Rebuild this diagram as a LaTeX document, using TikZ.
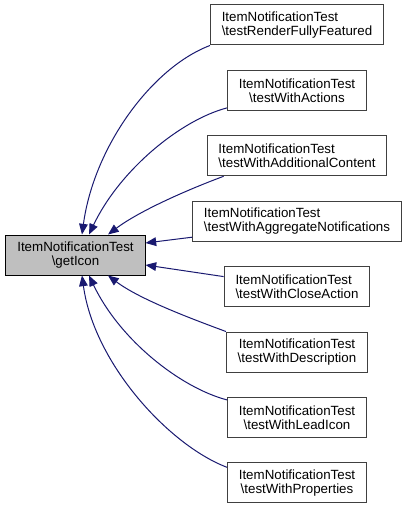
\documentclass[tikz,border=0pt]{standalone}
\usepackage{fontspec}
\setmainfont{Liberation Sans}
\usetikzlibrary{positioning, arrows.meta, calc}
\definecolor{callcolor}{RGB}{25, 25, 112}
\definecolor{focusfill}{RGB}{191, 191, 191}

\begin{document}
\begin{tikzpicture}[x=0.75pt, y=-0.75pt, node distance=18.3pt,
    caller/.style={draw=black!75, fill=white, line width=0.75pt,
              minimum height=30pt, inner xsep=8.5pt, inner ysep=2pt,
              font=\fontsize{10}{10.3}\selectfont, align=center},
    callline/.style={draw=callcolor, line width=0.75pt,
              -{Triangle[length=8pt, width=6.5pt]}}]
        \useasboundingbox (0,0) rectangle (405,509);
        % function whose callers are shown
        \node[caller, draw=black, fill=focusfill] (main) at (75.5,255)
              {ItemNotificationTest\\\textbackslash getIcon};
        % callers, one column
        \node[caller, align=left] (render) at (297,25)
              {ItemNotificationTest\\\textbackslash testRenderFullyFeatured};
        \node[caller, below=of render] (actions)
              {ItemNotificationTest\\\textbackslash testWithActions};
        \node[caller, align=left, below=of actions] (addcontent)
              {ItemNotificationTest\\\textbackslash testWithAdditionalContent};
        \node[caller, align=left, below=of addcontent] (aggregate)
              {ItemNotificationTest\\\textbackslash testWithAggregateNotifications};
        \node[caller, align=left, below=of aggregate] (closeact)
              {ItemNotificationTest\\\textbackslash testWithCloseAction};
        \node[caller, below=of closeact] (descr)
              {ItemNotificationTest\\\textbackslash testWithDescription};
        \node[caller, below=of descr] (leadicon)
              {ItemNotificationTest\\\textbackslash testWithLeadIcon};
        \node[caller, below=of leadicon] (props)
              {ItemNotificationTest\\\textbackslash testWithProperties};

        % call edges
        \draw[callline] (render.south west) .. controls +(-58,22) and +(12,-88) .. ($(main.north)+(6.5,0)$);
        \draw[callline] ($(actions.south west)+(0,-3)$) .. controls +(-46,12) and +(31,-65) .. ($(main.north)+(13.5,0)$);
        \draw[callline] ($(addcontent.south west)+(17,0)$) .. controls +(-35,13) and +(32,-24) .. ($(main.north)+(32.5,0)$);
        \draw[callline] ($(aggregate.west)+(0,16)$) -- ($(main.east)+(0,-12)$);
        \draw[callline] ($(closeact.west)+(0,-10)$) -- ($(main.east)+(0,10)$);
        \draw[callline] (descr.north west) .. controls +(-35,-13) and +(32,24) .. ($(main.south)+(32.5,0)$);
        \draw[callline] ($(leadicon.north west)+(0,3)$) .. controls +(-46,-12) and +(31,65) .. ($(main.south)+(13.5,0)$);
        \draw[callline] ($(props.north west)+(0,5)$) .. controls +(-58,-22) and +(12,88) .. ($(main.south)+(6.5,0)$);
\end{tikzpicture}
\end{document}
